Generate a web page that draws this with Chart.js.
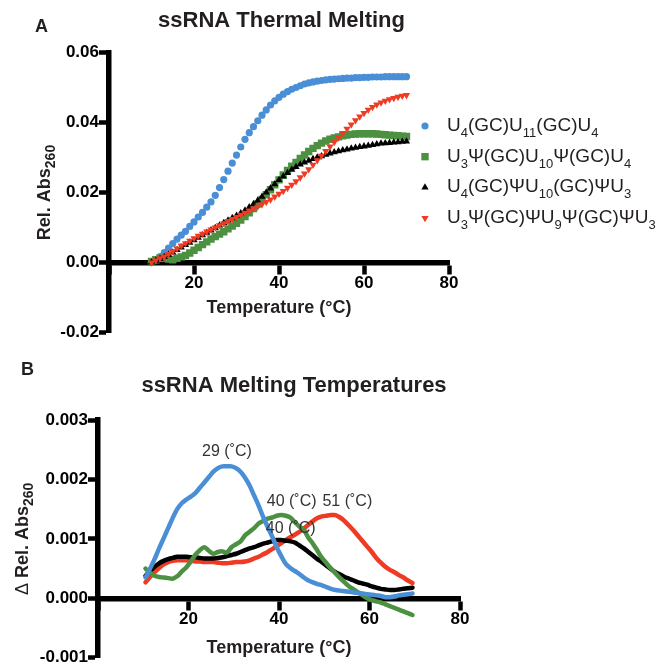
<!DOCTYPE html>
<html>
<head>
<meta charset="utf-8">
<script src="https://cdn.jsdelivr.net/npm/chart.js@4.4.1/dist/chart.umd.min.js"></script>
<style>
  html, body { margin: 0; padding: 0; background: #fff; overflow: hidden; }
  body { width: 657px; height: 668px; position: relative; }
  canvas { position: absolute; left: 0; }
  #chartA { top: 0; }
  #chartB { top: 340px; }
</style>
</head>
<body>
<canvas id="chartA" width="657" height="345"></canvas>
<canvas id="chartB" width="657" height="328"></canvas>
<script>
  const FONT = '"Liberation Sans", Arial, Helvetica, sans-serif';
  const TEXT = '#231f20';

  // series names, "_n" = subscript
  const seriesNames = [
    'U_4(GC)U_11(GC)U_4',
    'U_3Ψ(GC)U_10Ψ(GC)U_4',
    'U_4(GC)ΨU_10(GC)ΨU_3',
    'U_3Ψ(GC)ΨU_9Ψ(GC)ΨU_3'
  ];
  const seriesColors = ['#4a8fd6', '#4c9141', '#000000', '#ef3b24'];

  // Panel A: thermal melting (Rel. Abs260 vs temperature)
  const tempsA = [10, 11, 12, 13, 14, 15, 16, 17, 18, 19, 20, 21, 22, 23, 24, 25, 26, 27, 28, 29,
    30, 31, 32, 33, 34, 35, 36, 37, 38, 39, 40, 41, 42, 43, 44, 45, 46, 47, 48, 49,
    50, 51, 52, 53, 54, 55, 56, 57, 58, 59, 60, 61, 62, 63, 64, 65, 66, 67, 68, 69, 70];
  const blueA = [0.0000, 0.0008, 0.0017, 0.0028, 0.0041, 0.0054, 0.0067, 0.0078, 0.0089, 0.0103,
    0.0116, 0.0130, 0.0143, 0.0158, 0.0173, 0.0192, 0.0214, 0.0237, 0.0261, 0.0284,
    0.0307, 0.0330, 0.0352, 0.0371, 0.0388, 0.0405, 0.0421, 0.0436, 0.0450, 0.0462,
    0.0472, 0.0481, 0.0488, 0.0495, 0.0500, 0.0505, 0.0510, 0.0513, 0.0516, 0.0518,
    0.0520, 0.0522, 0.0523, 0.0524, 0.0525, 0.0526, 0.0527, 0.0527, 0.0528, 0.0528,
    0.0529, 0.0529, 0.0530, 0.0530, 0.0530, 0.0531, 0.0531, 0.0531, 0.0531, 0.0531, 0.0531];
  const greenA = [0.0003, 0.0008, 0.0012, 0.0013, 0.0010, 0.0008, 0.0012, 0.0016, 0.0020, 0.0027,
    0.0035, 0.0043, 0.0051, 0.0059, 0.0067, 0.0074, 0.0081, 0.0088, 0.0096, 0.0104,
    0.0112, 0.0121, 0.0131, 0.0142, 0.0154, 0.0167, 0.0180, 0.0194, 0.0208, 0.0222,
    0.0236, 0.0250, 0.0263, 0.0275, 0.0286, 0.0297, 0.0307, 0.0317, 0.0326, 0.0334,
    0.0341, 0.0347, 0.0352, 0.0356, 0.0359, 0.0362, 0.0364, 0.0366, 0.0367, 0.0368,
    0.0368, 0.0368, 0.0368, 0.0367, 0.0366, 0.0365, 0.0364, 0.0363, 0.0362, 0.0361, 0.0360];
  const blackA = [0.0000, 0.0005, 0.0010, 0.0016, 0.0022, 0.0029, 0.0036, 0.0043, 0.0050, 0.0057,
    0.0064, 0.0071, 0.0078, 0.0085, 0.0092, 0.0099, 0.0106, 0.0113, 0.0120, 0.0127,
    0.0134, 0.0141, 0.0149, 0.0158, 0.0167, 0.0177, 0.0188, 0.0200, 0.0212, 0.0224,
    0.0236, 0.0246, 0.0256, 0.0265, 0.0273, 0.0280, 0.0286, 0.0291, 0.0296, 0.0300,
    0.0304, 0.0308, 0.0312, 0.0315, 0.0318, 0.0321, 0.0323, 0.0326, 0.0328, 0.0330,
    0.0332, 0.0334, 0.0336, 0.0338, 0.0340, 0.0341, 0.0342, 0.0343, 0.0344, 0.0345, 0.0346];
  const redA = [0.0000, 0.0006, 0.0012, 0.0017, 0.0024, 0.0032, 0.0040, 0.0048, 0.0055, 0.0062,
    0.0069, 0.0076, 0.0082, 0.0088, 0.0094, 0.0100, 0.0106, 0.0112, 0.0118, 0.0124,
    0.0130, 0.0136, 0.0142, 0.0148, 0.0154, 0.0160, 0.0166, 0.0173, 0.0180, 0.0188,
    0.0196, 0.0204, 0.0213, 0.0222, 0.0232, 0.0243, 0.0254, 0.0266, 0.0279, 0.0292,
    0.0305, 0.0318, 0.0331, 0.0344, 0.0357, 0.0370, 0.0382, 0.0394, 0.0406, 0.0417,
    0.0427, 0.0436, 0.0444, 0.0451, 0.0457, 0.0462, 0.0466, 0.0470, 0.0473, 0.0476, 0.0478];

  // Panel B: first derivative
  const tempsB = [10.5, 11.5, 12.5, 13.5, 14.5, 15.5, 16.5, 17.5, 18.5, 19.5,
    20.5, 21.5, 22.5, 23.5, 24.5, 25.5, 26.5, 27.5, 28.5, 29.5,
    30.5, 31.5, 32.5, 33.5, 34.5, 35.5, 36.5, 37.5, 38.5, 39.5,
    40.5, 41.5, 42.5, 43.5, 44.5, 45.5, 46.5, 47.5, 48.5, 49.5,
    50.5, 51.5, 52.5, 53.5, 54.5, 55.5, 56.5, 57.5, 58.5, 59.5,
    60.5, 61.5, 62.5, 63.5, 64.5, 65.5, 66.5, 67.5, 68.5, 69.5];
  const blueB = [0.00035, 0.00050, 0.00066, 0.00084, 0.00101, 0.00118, 0.00135, 0.00150, 0.00160, 0.00166,
    0.00171, 0.00177, 0.00186, 0.00195, 0.00204, 0.00213, 0.00219, 0.00222, 0.00222, 0.00222,
    0.00219, 0.00213, 0.00203, 0.00190, 0.00173, 0.00156, 0.00137, 0.00120, 0.00104, 0.00086,
    0.00071, 0.00058, 0.00051, 0.00046, 0.00041, 0.00035, 0.00030, 0.00027, 0.00024, 0.00022,
    0.00019, 0.00016, 0.00014, 0.00013, 0.00012, 0.00011, 0.00010, 0.00009, 0.00008, 0.00007,
    0.00006, 0.00005, 0.00004, 0.00002, 0.00002, 0.00003, 0.00005, 0.00006, 0.00007, 0.00008];
  const greenB = [0.00050, 0.00043, 0.00038, 0.00036, 0.00035, 0.00034, 0.00033, 0.00037, 0.00045, 0.00052,
    0.00062, 0.00073, 0.00081, 0.00086, 0.00080, 0.00075, 0.00078, 0.00079, 0.00077, 0.00086,
    0.00091, 0.00096, 0.00106, 0.00112, 0.00118, 0.00126, 0.00130, 0.00134, 0.00136, 0.00139,
    0.00140, 0.00139, 0.00136, 0.00128, 0.00121, 0.00115, 0.00102, 0.00092, 0.00080, 0.00068,
    0.00059, 0.00050, 0.00042, 0.00034, 0.00027, 0.00020, 0.00015, 0.00010, 0.00005, 0.00000,
    -0.00003, -0.00005, -0.00007, -0.00010, -0.00013, -0.00016, -0.00019, -0.00022, -0.00025, -0.00028];
  const blackB = [0.00038, 0.00046, 0.00053, 0.00059, 0.00063, 0.00066, 0.00068, 0.00070, 0.00070, 0.00070,
    0.00069, 0.00069, 0.00068, 0.00067, 0.00067, 0.00067, 0.00068, 0.00069, 0.00071, 0.00073,
    0.00075, 0.00078, 0.00081, 0.00084, 0.00086, 0.00089, 0.00092, 0.00094, 0.00096, 0.00098,
    0.00098, 0.00097, 0.00096, 0.00094, 0.00089, 0.00084, 0.00078, 0.00072, 0.00066, 0.00061,
    0.00055, 0.00049, 0.00044, 0.00040, 0.00036, 0.00033, 0.00030, 0.00027, 0.00025, 0.00023,
    0.00020, 0.00018, 0.00016, 0.00015, 0.00014, 0.00014, 0.00015, 0.00016, 0.00017, 0.00018];
  const redB = [0.00027, 0.00036, 0.00044, 0.00051, 0.00057, 0.00061, 0.00063, 0.00064, 0.00064, 0.00064,
    0.00063, 0.00062, 0.00062, 0.00061, 0.00061, 0.00061, 0.00060, 0.00059, 0.00059, 0.00060,
    0.00061, 0.00061, 0.00062, 0.00064, 0.00067, 0.00070, 0.00074, 0.00078, 0.00083, 0.00088,
    0.00093, 0.00098, 0.00103, 0.00107, 0.00112, 0.00117, 0.00124, 0.00130, 0.00135, 0.00138,
    0.00139, 0.00140, 0.00140, 0.00136, 0.00130, 0.00122, 0.00114, 0.00105, 0.00096, 0.00087,
    0.00078, 0.00068, 0.00060, 0.00053, 0.00048, 0.00044, 0.00039, 0.00035, 0.00030, 0.00026];

  // peak temperature labels (data coordinates)
  const peakLabels = [
    { text: '29 (˚C)', x: 28.5, y: 0.00240 },
    { text: '40 (˚C)', x: 42.8, y: 0.00156 },
    { text: '51 (˚C)', x: 55.1, y: 0.00156 },
    { text: '40 (˚C)', x: 42.6, y: 0.00110 }
  ];

  const xTicksA = { min: 0, max: 80, step: 20 };
  const yTicksA = { min: -0.02, max: 0.06, step: 0.02 };
  const yTicksB = { min: -0.001, max: 0.003, step: 0.001 };

  function richParts(str) {
    const parts = [];
    const re = /_(\d+)/g;
    let last = 0, m;
    while ((m = re.exec(str))) {
      if (m.index > last) parts.push({ t: str.slice(last, m.index), sub: false });
      parts.push({ t: m[1], sub: true });
      last = re.lastIndex;
    }
    if (last < str.length) parts.push({ t: str.slice(last), sub: false });
    return parts;
  }

  function drawRich(ctx, parts, x, y, f, align) {
    let w = 0;
    parts.forEach(p => {
      ctx.font = `${p.weight || f.weight} ${p.sub ? f.subSize : f.size}px ${FONT}`;
      p.w = ctx.measureText(p.t).width;
      w += p.w;
    });
    let cx = align === 'center' ? x - w / 2 : x;
    ctx.textAlign = 'left';
    ctx.textBaseline = 'alphabetic';
    parts.forEach(p => {
      ctx.font = `${p.weight || f.weight} ${p.sub ? f.subSize : f.size}px ${FONT}`;
      ctx.fillText(p.t, cx, y + (p.sub ? f.drop : 0));
      cx += p.w;
    });
  }

  const panelText = {
    id: 'panelText',
    afterDraw(chart, args, o) {
      const { ctx, chartArea: a } = chart;
      ctx.save();
      ctx.fillStyle = TEXT;
      ctx.textBaseline = 'alphabetic';

      ctx.font = `bold 18px ${FONT}`;
      ctx.textAlign = 'left';
      ctx.fillText(o.letter, o.letterX, o.letterY);

      ctx.font = `bold 22px ${FONT}`;
      ctx.textAlign = 'center';
      ctx.fillText(o.title, (a.left + a.right) / 2 + o.titleDx, o.titleY);

      // rotated y axis title with subscript
      ctx.save();
      ctx.translate(o.yTitleX, (a.top + a.bottom) / 2);
      ctx.rotate(-Math.PI / 2);
      const yParts = (o.yPrefix ? [{ t: o.yPrefix, weight: 'normal' }] : []).concat(richParts('Rel. Abs_260'));
      drawRich(ctx, yParts, 0, 0, { weight: 'bold', size: 18, subSize: 14, drop: 5 }, 'center');
      ctx.restore();

      if (o.legend) {
        const L = o.legend;
        chart.data.datasets.forEach((ds, i) => {
          const cy = L.y0 + i * L.dy;
          ctx.fillStyle = ds.backgroundColor;
          ctx.strokeStyle = ds.backgroundColor;
          Chart.helpers.drawPoint(ctx, {
            pointStyle: ds.pointStyle, radius: ds.pointRadius,
            rotation: ds.rotation || 0, borderWidth: 0
          }, L.x, cy);
          ctx.fillStyle = TEXT;
          drawRich(ctx, richParts(seriesNames[i]), L.textX, cy + 5,
            { weight: 'normal', size: 19, subSize: 13, drop: 6 }, 'left');
        });
      }

      if (o.labels) {
        ctx.fillStyle = '#333';
        ctx.font = `16px ${FONT}`;
        ctx.textAlign = 'center';
        o.labels.forEach(l => {
          ctx.fillText(l.text, chart.scales.x.getPixelForValue(l.x), chart.scales.y.getPixelForValue(l.y));
        });
      }
      ctx.restore();
    }
  };

  function axisX(titleH) {
    return {
      type: 'linear',
      position: { y: 0 },
      min: xTicksA.min,
      max: xTicksA.max,
      ticks: {
        stepSize: xTicksA.step,
        padding: 1.5,
        color: '#000',
        font: { family: FONT, size: 17, weight: 'bold' },
        callback: v => (v === 0 ? '' : v)
      },
      grid: { drawOnChartArea: false, drawTicks: true, tickLength: 9, tickWidth: 4.5, tickColor: '#000' },
      border: { display: true, width: 5.5, color: '#000' },
      title: {
        display: true,
        text: 'Temperature (°C)',
        color: TEXT,
        font: { family: FONT, size: 18, weight: 'bold' },
        padding: { top: 0, bottom: 0 }
      },
      afterFit: s => { s.height = titleH; }
    };
  }

  function axisY(t, digits, width) {
    return {
      type: 'linear',
      position: 'left',
      min: t.min,
      max: t.max,
      ticks: {
        stepSize: t.step,
        padding: 0,
        color: '#000',
        font: { family: FONT, size: 17, weight: 'bold' },
        callback: v => (Math.abs(v) < 1e-9 ? 0 : v).toFixed(digits)
      },
      grid: { drawOnChartArea: false, drawTicks: true, tickLength: 10, tickWidth: 4.5, tickColor: '#000' },
      border: { display: true, width: 5.5, color: '#000' },
      afterFit: s => { s.width = width; }
    };
  }

  const styleA = [
    { pointStyle: 'circle', pointRadius: 3.6, order: 3 },
    { pointStyle: 'rect', pointRadius: 5.2, order: 2 },
    { pointStyle: 'triangle', pointRadius: 4.2, order: 1 },
    { pointStyle: 'triangle', pointRadius: 4.2, rotation: 180, order: 0 }
  ];
  const valuesA = [blueA, greenA, blackA, redA];

  new Chart(document.getElementById('chartA'), {
    type: 'scatter',
    data: {
      datasets: valuesA.map((vals, i) => ({
        label: seriesNames[i],
        data: tempsA.map((t, j) => ({ x: t, y: vals[j] })),
        backgroundColor: seriesColors[i],
        borderColor: seriesColors[i],
        pointBorderWidth: 0,
        pointHoverRadius: styleA[i].pointRadius,
        ...styleA[i]
      }))
    },
    options: {
      responsive: false,
      animation: false,
      layout: { padding: { left: 0, top: 52.5, right: 208, bottom: 12.5 } },
      scales: { x: axisX(56.6), y: axisY(yTicksA, 2, 109) },
      plugins: {
        legend: { display: false },
        tooltip: { enabled: false },
        panelText: {
          letter: 'A', letterX: 35, letterY: 31.7,
          title: 'ssRNA Thermal Melting', titleDx: 2.5, titleY: 26.7,
          yTitleX: 50,
          legend: { x: 425, textX: 447, y0: 126, dy: 30.7 }
        }
      }
    },
    plugins: [panelText]
  });

  const valuesB = [blueB, greenB, blackB, redB];
  const orderB = [0, 1, 2, 3];

  new Chart(document.getElementById('chartB'), {
    type: 'scatter',
    data: {
      datasets: valuesB.map((vals, i) => ({
        label: seriesNames[i],
        data: tempsB.map((t, j) => ({ x: t, y: vals[j] })),
        showLine: true,
        borderColor: seriesColors[i],
        backgroundColor: seriesColors[i],
        borderWidth: 4.5,
        pointRadius: 0,
        pointHoverRadius: 0,
        tension: 0.3,
        borderJoinStyle: 'round',
        borderCapStyle: 'round',
        order: orderB[i]
      }))
    },
    options: {
      responsive: false,
      animation: false,
      layout: { padding: { left: 0, top: 80, right: 197, bottom: 8 } },
      scales: { x: axisX(60.8), y: axisY(yTicksB, 3, 98) },
      plugins: {
        legend: { display: false },
        tooltip: { enabled: false },
        panelText: {
          letter: 'B', letterX: 21, letterY: 35,
          title: 'ssRNA Melting Temperatures', titleDx: 15, titleY: 51.7,
          yTitleX: 27.5, yPrefix: 'Δ ',
          labels: peakLabels
        }
      }
    },
    plugins: [panelText]
  });
</script>
</body>
</html>
